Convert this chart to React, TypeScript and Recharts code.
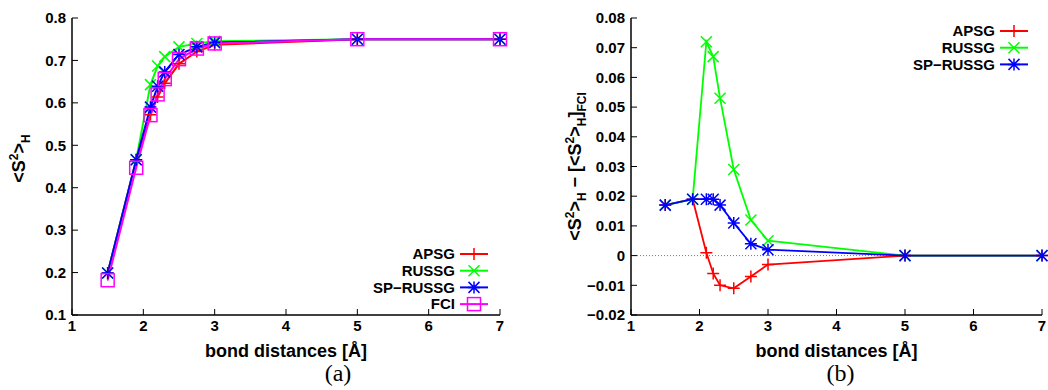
import { LineChart, Line, XAxis, YAxis, ReferenceLine, Legend } from 'recharts';

const distances = [1.5, 1.9, 2.1, 2.2, 2.3, 2.5, 2.75, 3.0, 5.0, 7.0];

// (a) <S^2>_H
const apsgS2 = [0.199, 0.466, 0.572, 0.614, 0.646, 0.692, 0.721, 0.737, 0.75, 0.75];
const russgS2 = [0.199, 0.466, 0.643, 0.687, 0.709, 0.732, 0.74, 0.745, 0.75, 0.75];
const spRussgS2 = [0.199, 0.466, 0.59, 0.639, 0.673, 0.714, 0.732, 0.742, 0.75, 0.75];
const fciS2 = [0.182, 0.447, 0.571, 0.62, 0.656, 0.703, 0.728, 0.74, 0.75, 0.75];

// (b) deviation from FCI
const apsgDiff = [0.017, 0.019, 0.001, -0.006, -0.01, -0.011, -0.007, -0.003, 0, 0];
const russgDiff = [0.017, 0.019, 0.072, 0.067, 0.053, 0.029, 0.012, 0.005, 0, 0];
const spRussgDiff = [0.017, 0.019, 0.019, 0.019, 0.017, 0.011, 0.004, 0.002, 0, 0];

const xTicks = [1, 2, 3, 4, 5, 6, 7];
const s2Ticks = [0.1, 0.2, 0.3, 0.4, 0.5, 0.6, 0.7, 0.8];
const diffTicks = [-0.02, -0.01, 0, 0.01, 0.02, 0.03, 0.04, 0.05, 0.06, 0.07, 0.08];

const rowsA = distances.map((d, i) => ({
  d,
  apsg: apsgS2[i],
  russg: russgS2[i],
  sp: spRussgS2[i],
  fci: fciS2[i],
}));

const rowsB = distances.map((d, i) => ({
  d,
  apsg: apsgDiff[i],
  russg: russgDiff[i],
  sp: spRussgDiff[i],
}));

const FONT = '"Liberation Sans", Arial, Helvetica, sans-serif';
const SERIF = '"Liberation Serif", "DejaVu Serif", serif';
const TICK = 6;
const RED = '#ff0000';
const GREEN = '#00ff00';
const BLUE = '#0000ff';
const MAGENTA = '#ff00ff';

type Kind = 'plus' | 'cross' | 'star' | 'square';

function Marker({ cx, cy, kind, color }: { cx: number; cy: number; kind: Kind; color: string }) {
  const p = { stroke: color, strokeWidth: 1.5, fill: 'none' };
  const r = 6;
  const d = 5.5;
  const plus = `M${cx - r},${cy}H${cx + r}M${cx},${cy - r}V${cy + r}`;
  const cross = `M${cx - d},${cy - d}L${cx + d},${cy + d}M${cx - d},${cy + d}L${cx + d},${cy - d}`;
  if (kind === 'square') {
    return (
      <g>
        <rect x={cx - 6.5} y={cy - 6.5} width={13} height={13} {...p} />
        <rect x={cx - 0.5} y={cy - 0.5} width={1} height={1} fill={color} />
      </g>
    );
  }
  if (kind === 'plus') return <path d={plus} {...p} />;
  if (kind === 'cross') return <path d={cross} {...p} />;
  return <path d={plus + cross} {...p} />;
}

const dotOf = (kind: Kind, color: string, id: string) => (p: any) => (
  <Marker key={`${id}${p.index}`} cx={p.cx} cy={p.cy} kind={kind} color={color} />
);

const fmt = (v: number, digits: number) => {
  if (v === 0) return '0';
  const s = Math.abs(v).toFixed(digits);
  return v < 0 ? '−' + s : s;
};

function BottomTick({ x, y, payload }: any) {
  return (
    <g>
      <line x1={x} y1={y} x2={x} y2={y - TICK} stroke="#000" />
      <text x={x} y={y + 16} textAnchor="middle" fontFamily={FONT} fontWeight="bold" fontSize={15} fill="#000">
        {payload.value}
      </text>
    </g>
  );
}

function TopTick({ x, y }: any) {
  return <line x1={x} y1={y} x2={x} y2={y + TICK} stroke="#000" />;
}

function RightTick({ x, y }: any) {
  return <line x1={x} y1={y} x2={x - TICK} y2={y} stroke="#000" />;
}

const leftTick = (digits: number) => ({ x, y, payload }: any) => (
  <g>
    <line x1={x} y1={y} x2={x + TICK} y2={y} stroke="#000" />
    <text x={x - 6} y={y} dy="0.35em" textAnchor="end" fontFamily={FONT} fontWeight="bold" fontSize={15} fill="#000">
      {fmt(payload.value, digits)}
    </text>
  </g>
);

const xLabel = (caption: string, shift: number) => (props: any) => {
  const { x, y, width } = props.viewBox;
  const cx = x + width / 2;
  return (
    <g>
      <text x={cx} y={y + 42} textAnchor="middle" fontFamily={FONT} fontWeight="bold" fontSize={18} fill="#000">
        bond distances [Å]
      </text>
      <text x={cx + shift} y={y + 66} textAnchor="middle" fontFamily={SERIF} fontSize={24} fill="#000">
        {caption}
      </text>
    </g>
  );
};

const s2Label = (props: any) => {
  const { x, y, height } = props.viewBox;
  const cx = x + 7;
  const cy = y + height / 2 - 8;
  return (
    <text
      x={cx}
      y={cy}
      dy="0.35em"
      transform={`rotate(-90 ${cx} ${cy})`}
      textAnchor="middle"
      fontFamily={FONT}
      fontWeight="bold"
      fontSize={18}
      fill="#000"
    >
      &lt;S<tspan dy={-7} fontSize={12}>2</tspan>
      <tspan dy={7}>&gt;</tspan>
      <tspan dy={5} fontSize={12}>H</tspan>
    </text>
  );
};

const diffLabel = (props: any) => {
  const { x, y, height } = props.viewBox;
  const cx = x + 4;
  const cy = y + height / 2;
  return (
    <text
      x={cx}
      y={cy}
      dy="0.35em"
      transform={`rotate(-90 ${cx} ${cy})`}
      textAnchor="middle"
      fontFamily={FONT}
      fontWeight="bold"
      fontSize={18}
      fill="#000"
    >
      &lt;S<tspan dy={-7} fontSize={12}>2</tspan>
      <tspan dy={7}>&gt;</tspan>
      <tspan dy={5} fontSize={12}>H</tspan>
      <tspan dy={-5}> − [&lt;S</tspan>
      <tspan dy={-7} fontSize={12}>2</tspan>
      <tspan dy={7}>&gt;</tspan>
      <tspan dy={5} fontSize={12}>H</tspan>
      <tspan dy={-5}>]</tspan>
      <tspan dy={5} fontSize={12}>FCI</tspan>
    </text>
  );
};

type Item = { name: string; kind: Kind; color: string };

const legendOf = (items: Item[]) => () => (
  <svg width={160} height={70} style={{ display: 'block' }}>
    {items.map((it, i) => {
      const cy = 10 + i * 16.7;
      return (
        <g key={it.name}>
          <text x={115} y={cy} dy="0.35em" textAnchor="end" fontFamily={FONT} fontWeight="bold" fontSize={15} fill="#000">
            {it.name}
          </text>
          <line x1={120} x2={148} y1={cy} y2={cy} stroke={it.color} strokeWidth={2} />
          <Marker cx={134} cy={cy} kind={it.kind} color={it.color} />
        </g>
      );
    })}
  </svg>
);

const itemsA: Item[] = [
  { name: 'APSG', kind: 'plus', color: RED },
  { name: 'RUSSG', kind: 'cross', color: GREEN },
  { name: 'SP−RUSSG', kind: 'star', color: BLUE },
  { name: 'FCI', kind: 'square', color: MAGENTA },
];
const itemsB = itemsA.slice(0, 3);

const axisLine = { stroke: '#000', strokeWidth: 1.5 };

export default function App() {
  return (
    <div style={{ position: 'absolute', left: 0, top: 0, width: 1048, height: 390, background: '#fff' }}>
      <div style={{ position: 'absolute', left: 0, top: 0 }}>
        <LineChart width={520} height={390} data={rowsA} margin={{ top: 18, right: 20, bottom: 45, left: 12 }}>
          <XAxis dataKey="d" type="number" domain={[1, 7]} ticks={xTicks} interval={0} tickSize={0} tickMargin={0}
            tickLine={false} tick={<BottomTick />} axisLine={axisLine} height={30} label={xLabel('(a)', 52)} />
          <XAxis xAxisId="top" orientation="top" dataKey="d" type="number" domain={[1, 7]} ticks={xTicks} interval={0}
            tickSize={0} tickMargin={0} tickLine={false} tick={<TopTick />} axisLine={axisLine} height={0} />
          <YAxis type="number" domain={[0.1, 0.8]} ticks={s2Ticks} interval={0} tickSize={0} tickMargin={0}
            tickLine={false} tick={leftTick(1)} axisLine={axisLine} width={60} label={s2Label} />
          <YAxis yAxisId="right" orientation="right" type="number" domain={[0.1, 0.8]} ticks={s2Ticks} interval={0}
            tickSize={0} tickMargin={0} tickLine={false} tick={<RightTick />} axisLine={axisLine} width={0} />
          <Legend layout="vertical" align="center" verticalAlign="middle" content={legendOf(itemsA)}
            wrapperStyle={{ left: 340, top: 244, width: 160, height: 70 }} />
          <Line dataKey="apsg" stroke={RED} strokeWidth={2} dot={dotOf('plus', RED, 'a')} activeDot={false} isAnimationActive={false} />
          <Line dataKey="russg" stroke={GREEN} strokeWidth={2} dot={dotOf('cross', GREEN, 'r')} activeDot={false} isAnimationActive={false} />
          <Line dataKey="sp" stroke={BLUE} strokeWidth={2} dot={dotOf('star', BLUE, 's')} activeDot={false} isAnimationActive={false} />
          <Line dataKey="fci" stroke={MAGENTA} strokeWidth={2} dot={dotOf('square', MAGENTA, 'f')} activeDot={false} isAnimationActive={false} />
        </LineChart>
      </div>
      <div style={{ position: 'absolute', left: 540, top: 0 }}>
        <LineChart width={508} height={390} data={rowsB} margin={{ top: 18, right: 6, bottom: 45, left: 31 }}>
          <XAxis dataKey="d" type="number" domain={[1, 7]} ticks={xTicks} interval={0} tickSize={0} tickMargin={0}
            tickLine={false} tick={<BottomTick />} axisLine={axisLine} height={30} label={xLabel('(b)', 4)} />
          <XAxis xAxisId="top" orientation="top" dataKey="d" type="number" domain={[1, 7]} ticks={xTicks} interval={0}
            tickSize={0} tickMargin={0} tickLine={false} tick={<TopTick />} axisLine={axisLine} height={0} />
          <YAxis type="number" domain={[-0.02, 0.08]} ticks={diffTicks} interval={0} tickSize={0} tickMargin={0}
            tickLine={false} tick={leftTick(2)} axisLine={axisLine} width={60} label={diffLabel} />
          <YAxis yAxisId="right" orientation="right" type="number" domain={[-0.02, 0.08]} ticks={diffTicks} interval={0}
            tickSize={0} tickMargin={0} tickLine={false} tick={<RightTick />} axisLine={axisLine} width={0} />
          <ReferenceLine y={0} stroke="#777" strokeDasharray="1 2" strokeWidth={1} />
          <Legend layout="vertical" align="center" verticalAlign="middle" content={legendOf(itemsB)}
            wrapperStyle={{ left: 340, top: 21, width: 160, height: 70 }} />
          <Line dataKey="apsg" stroke={RED} strokeWidth={1.8} dot={dotOf('plus', RED, 'a')} activeDot={false} isAnimationActive={false} />
          <Line dataKey="russg" stroke={GREEN} strokeWidth={1.8} dot={dotOf('cross', GREEN, 'r')} activeDot={false} isAnimationActive={false} />
          <Line dataKey="sp" stroke={BLUE} strokeWidth={1.8} dot={dotOf('star', BLUE, 's')} activeDot={false} isAnimationActive={false} />
        </LineChart>
      </div>
    </div>
  );
}
